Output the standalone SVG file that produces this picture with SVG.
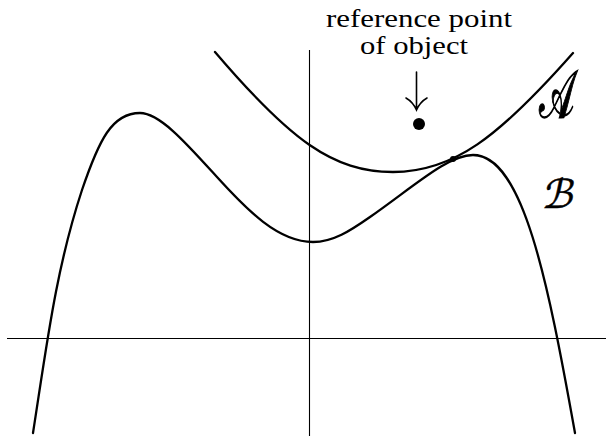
<svg xmlns="http://www.w3.org/2000/svg" width="606" height="436" viewBox="0 0 606 436">
<style>
.axis{stroke:#000;stroke-width:1.1;fill:none}
.curve{stroke:#000;stroke-width:2.3;fill:none;stroke-linecap:round;stroke-linejoin:round}
.note{font-family:"Liberation Serif","Times New Roman","DejaVu Serif",serif;font-size:25px;fill:#000}
.lab{font-family:"DejaVu Sans","Noto Sans","DejaVu Serif",serif;fill:#000;stroke:#000}
.arr{stroke:#000;stroke-width:1.6;fill:none;stroke-linecap:round}
</style>
<rect width="606" height="436" fill="#fff"/>
<g id="axes">
<line class="axis" x1="7" y1="338.5" x2="606" y2="338.5"/>
<line class="axis" x1="309.5" y1="50" x2="309.5" y2="436"/>
</g>
<g id="curve-A">
<path class="curve" d="M215,52 C290,140 333,172 393,172 C453,172 498,138 573,53"/>
<text class="lab" font-size="44" stroke-width="0.9" transform="translate(539,117) scale(0.85,1.5)">𝒜</text>
</g>
<g id="curve-B">
<path class="curve" d="M33,433 C47,343 56,269 82,190 C99,140 112,113 140,113 C160,113 187,144 217,177 C247,210 278,242 313,242 C333,242 350,231 370,217 C415,185.5 448,155 473,155 C523,155 547.8,281 575,433"/>
<text class="lab" font-size="40" stroke-width="0.5" transform="translate(541,208) skewX(-12)">ℬ</text>
</g>
<g id="reference-point">
<text class="note" x="326" y="27" textLength="186" lengthAdjust="spacingAndGlyphs">reference point</text>
<text class="note" x="360" y="54" textLength="108" lengthAdjust="spacingAndGlyphs">of object</text>
<circle cx="419" cy="124" r="6" fill="#000"/>
</g>
<g id="touch-point">
<circle cx="453" cy="159" r="3" fill="#000"/>
</g>
<g id="connectors">
<path class="arr" d="M416.5,72 L416.5,110 M406,98 Q413,102 416.5,110 Q420,102 427,98"/>
</g>
</svg>
